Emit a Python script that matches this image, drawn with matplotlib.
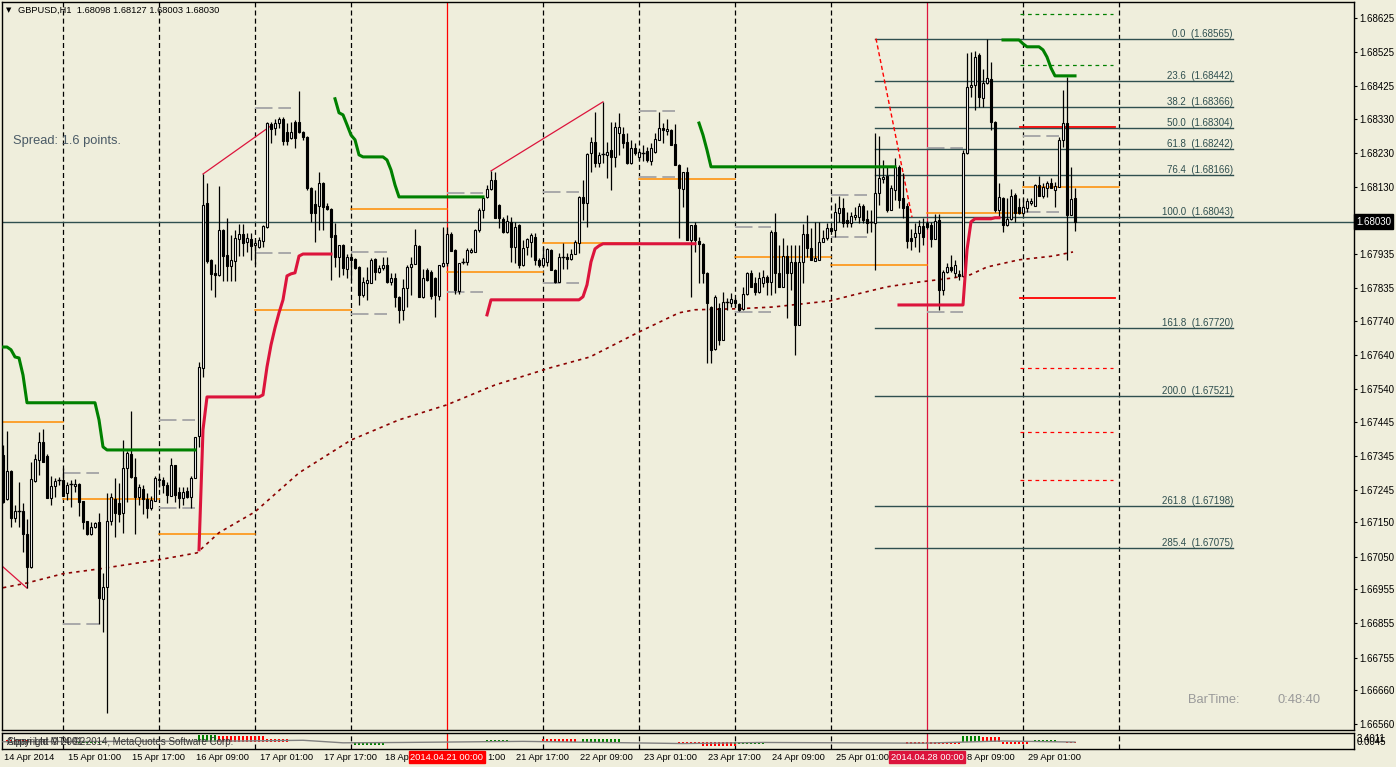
import matplotlib
matplotlib.use("Agg")
import matplotlib.pyplot as plt
import matplotlib.transforms as mtransforms
import numpy as np

plt.rcParams['font.family'] = ['Liberation Sans', 'DejaVu Sans']

BG = '#EFEEDC'
W, H = 1396, 767

# GBPUSD H1, bar 0 = 14 Apr 2014 09:00 (one bar per hour, no weekend bars)
opens = [1.67348,1.67219,1.67301,1.67164,1.67181,1.67184,1.67117,1.67020,1.67271,1.67333,1.67386,1.67345,
 1.67222,1.67257,1.67271,1.67274,1.67236,1.67260,1.67257,1.67263,1.67213,1.67155,1.67117,1.67137,
 1.67152,1.66927,1.66961,1.67155,1.67219,1.67207,1.67178,1.67310,1.67351,1.67283,1.67225,1.67248,
 1.67219,1.67193,1.67213,1.67274,1.67274,1.67260,1.67228,1.67318,1.67239,1.67222,1.67242,1.67225,
 1.67280,1.67403,1.67602,1.68085,1.67918,1.67880,1.67874,1.68005,1.67932,1.67900,1.67915,1.67979,
 1.67994,1.67970,1.67979,1.67962,1.67956,1.67973,1.68014,1.68315,1.68304,1.68318,1.68330,1.68292,
 1.68275,1.68321,1.68321,1.68292,1.68277,1.68128,1.68082,1.68076,1.68143,1.68076,1.68067,1.67991,
 1.67927,1.67962,1.67891,1.67927,1.67921,1.67897,1.67815,1.67850,1.67850,1.67921,1.67883,1.67894,
 1.67903,1.67853,1.67865,1.67809,1.67772,1.67836,1.67897,1.67906,1.67959,1.67809,1.67889,1.67883,
 1.67865,1.67812,1.67900,1.67909,1.67994,1.67947,1.67827,1.67909,1.67912,1.67941,1.67941,1.68005,
 1.68064,1.68102,1.68125,1.68152,1.68079,1.68038,1.67999,1.68029,1.67956,1.68020,1.67903,1.67956,
 1.67970,1.67985,1.67918,1.67903,1.67912,1.67947,1.67889,1.67853,1.67924,1.67927,1.67921,1.67935,
 1.67967,1.68102,1.68085,1.68231,1.68263,1.68201,1.68225,1.68225,1.68239,1.68219,1.68289,1.68286,
 1.68263,1.68201,1.68245,1.68219,1.68234,1.68236,1.68207,1.68234,1.68269,1.68304,1.68295,1.68298,
 1.68257,1.68196,1.68125,1.68175,1.67976,1.68020,1.67973,1.67965,1.67880,1.67780,1.67658,1.67777,
 1.67684,1.67792,1.67792,1.67801,1.67789,1.67775,1.67818,1.67880,1.67850,1.67824,1.67850,1.67868,
 1.67853,1.67999,1.67880,1.67839,1.67929,1.67880,1.67912,1.67728,1.67912,1.67994,1.67953,1.67915,
 1.67918,1.67970,1.67982,1.68011,1.68005,1.68055,1.68070,1.68035,1.68026,1.68044,1.68044,1.68076,
 1.68038,1.68026,1.68026,1.68114,1.68155,1.68164,1.68064,1.68122,1.68190,1.68099,1.68076,1.67982,
 1.67985,1.67997,1.68017,1.68026,1.68020,1.67979,1.68035,1.67830,1.67883,1.67897,1.67880,1.67877,
 1.67871,1.68231,1.68424,1.68429,1.68517,1.68392,1.68435,1.68447,1.68321,1.68064,1.68099,1.68020,
 1.68038,1.68108,1.68073,1.68055,1.68070,1.68085,1.68076,1.68137,1.68105,1.68128,1.68143,1.68122,
 1.68131,1.68269,1.68318,1.68049,1.68098]
highs = [1.67377,1.67418,1.67304,1.67201,1.67268,1.67207,1.67161,1.67327,1.67351,1.67415,1.67424,1.67351,
 1.67286,1.67280,1.67283,1.67310,1.67268,1.67274,1.67277,1.67265,1.67213,1.67155,1.67152,1.67152,
 1.67178,1.67002,1.67236,1.67236,1.67280,1.67265,1.67391,1.67359,1.67476,1.67339,1.67263,1.67260,
 1.67236,1.67228,1.67286,1.67283,1.67283,1.67268,1.67339,1.67318,1.67254,1.67254,1.67254,1.67286,
 1.67400,1.67619,1.68169,1.68143,1.67921,1.67906,1.68134,1.68008,1.68041,1.67991,1.68005,1.68023,
 1.68023,1.67997,1.67997,1.67976,1.67985,1.68020,1.68321,1.68321,1.68330,1.68336,1.68336,1.68318,
 1.68321,1.68327,1.68412,1.68295,1.68280,1.68131,1.68122,1.68175,1.68146,1.68085,1.68070,1.68026,
 1.67962,1.67965,1.67935,1.67938,1.67924,1.67900,1.67868,1.67897,1.67924,1.67924,1.67903,1.67927,
 1.67927,1.67880,1.67880,1.67812,1.67862,1.67903,1.67927,1.68008,1.67962,1.67891,1.67894,1.67889,
 1.67868,1.67903,1.68014,1.68014,1.68000,1.67950,1.67909,1.67924,1.67953,1.67953,1.68008,1.68070,
 1.68102,1.68137,1.68178,1.68175,1.68082,1.68044,1.68049,1.68044,1.68029,1.68023,1.67976,1.67982,
 1.67997,1.67997,1.67924,1.67956,1.67953,1.67950,1.67891,1.67938,1.67967,1.67938,1.67950,1.67976,
 1.68105,1.68152,1.68231,1.68277,1.68351,1.68234,1.68380,1.68263,1.68321,1.68321,1.68348,1.68307,
 1.68289,1.68269,1.68260,1.68239,1.68254,1.68248,1.68260,1.68289,1.68351,1.68318,1.68330,1.68301,
 1.68315,1.68199,1.68175,1.68190,1.68020,1.68029,1.67985,1.67967,1.67883,1.67783,1.67815,1.67792,
 1.67824,1.67807,1.67821,1.67807,1.67792,1.67839,1.67883,1.67889,1.67868,1.67883,1.67889,1.67874,
 1.68005,1.68055,1.67962,1.67982,1.67962,1.67962,1.67962,1.67962,1.68023,1.68049,1.68011,1.68029,
 1.68029,1.68005,1.68026,1.68017,1.68085,1.68105,1.68099,1.68058,1.68058,1.68073,1.68085,1.68082,
 1.68064,1.68064,1.68289,1.68280,1.68210,1.68190,1.68137,1.68216,1.68196,1.68172,1.68085,1.68008,
 1.68026,1.68035,1.68041,1.68032,1.68029,1.68052,1.68052,1.67889,1.67909,1.67932,1.67918,1.67889,
 1.68239,1.68523,1.68526,1.68529,1.68523,1.68476,1.68565,1.68497,1.68324,1.68143,1.68102,1.68099,
 1.68125,1.68114,1.68099,1.68099,1.68099,1.68099,1.68140,1.68164,1.68143,1.68149,1.68158,1.68146,
 1.68277,1.68415,1.68453,1.68190,1.68127]
lows = [1.67207,1.67216,1.67137,1.67152,1.67137,1.67064,1.66958,1.67017,1.67268,1.67289,1.67327,1.67222,
 1.67201,1.67225,1.67260,1.67228,1.67216,1.67196,1.67239,1.67169,1.67131,1.67114,1.67114,1.67134,
 1.66854,1.66830,1.66593,1.67143,1.67108,1.67152,1.67120,1.67210,1.67280,1.67117,1.67201,1.67175,
 1.67164,1.67187,1.67213,1.67254,1.67236,1.67207,1.67228,1.67210,1.67193,1.67201,1.67222,1.67193,
 1.67280,1.67371,1.67575,1.67909,1.67830,1.67809,1.67871,1.67856,1.67856,1.67856,1.67856,1.67929,
 1.67929,1.67941,1.67918,1.67906,1.67953,1.67956,1.68011,1.68260,1.68283,1.68304,1.68254,1.68254,
 1.68272,1.68245,1.68289,1.68269,1.68122,1.68029,1.67970,1.68005,1.68005,1.68064,1.67859,1.67897,
 1.67868,1.67874,1.67865,1.67859,1.67891,1.67786,1.67809,1.67801,1.67850,1.67859,1.67880,1.67889,
 1.67850,1.67845,1.67780,1.67733,1.67742,1.67780,1.67815,1.67906,1.67809,1.67806,1.67856,1.67804,
 1.67751,1.67801,1.67897,1.67900,1.67944,1.67818,1.67818,1.67906,1.67903,1.67938,1.67941,1.67999,
 1.68041,1.68099,1.68122,1.68041,1.68011,1.67997,1.67997,1.67912,1.67909,1.67894,1.67900,1.67932,
 1.67927,1.67903,1.67897,1.67897,1.67900,1.67889,1.67850,1.67853,1.67891,1.67891,1.67918,1.67935,
 1.67938,1.68035,1.68014,1.68175,1.68190,1.68190,1.68201,1.68158,1.68122,1.68190,1.68225,1.68245,
 1.68199,1.68199,1.68225,1.68210,1.68207,1.68204,1.68196,1.68231,1.68269,1.68260,1.68283,1.68254,
 1.68196,1.67982,1.68073,1.67976,1.67809,1.67941,1.67850,1.67850,1.67617,1.67617,1.67655,1.67669,
 1.67684,1.67772,1.67780,1.67780,1.67769,1.67772,1.67815,1.67839,1.67815,1.67821,1.67839,1.67815,
 1.67815,1.67821,1.67839,1.67839,1.67748,1.67830,1.67640,1.67728,1.67850,1.67927,1.67918,1.67915,
 1.67918,1.67970,1.67976,1.67999,1.67985,1.68029,1.68014,1.68014,1.68014,1.68035,1.68026,1.68026,
 1.67997,1.67999,1.67889,1.68079,1.68143,1.68058,1.68064,1.68093,1.68070,1.68041,1.67953,1.67947,
 1.67956,1.67941,1.67962,1.68008,1.67956,1.67979,1.67772,1.67815,1.67880,1.67883,1.67868,1.67859,
 1.67868,1.68228,1.68394,1.68356,1.68365,1.68365,1.68432,1.68298,1.68058,1.68041,1.67999,1.68017,
 1.68035,1.68029,1.68052,1.68052,1.68058,1.68079,1.68076,1.68105,1.68099,1.68102,1.68128,1.68073,
 1.68131,1.68248,1.67918,1.68049,1.68003]
closes = [1.67210,1.67301,1.67164,1.67184,1.67184,1.67117,1.67020,1.67277,1.67336,1.67386,1.67327,1.67222,
 1.67257,1.67271,1.67274,1.67228,1.67260,1.67263,1.67263,1.67210,1.67152,1.67117,1.67137,1.67149,
 1.66930,1.66961,1.67155,1.67225,1.67178,1.67175,1.67310,1.67353,1.67283,1.67225,1.67254,1.67219,
 1.67193,1.67216,1.67280,1.67277,1.67260,1.67231,1.67318,1.67231,1.67222,1.67239,1.67225,1.67280,
 1.67400,1.67605,1.68079,1.67915,1.67877,1.67874,1.68005,1.67929,1.67900,1.67918,1.67982,1.67994,
 1.67967,1.67982,1.67959,1.67967,1.67976,1.68017,1.68318,1.68301,1.68318,1.68330,1.68266,1.68266,
 1.68292,1.68275,1.68292,1.68277,1.68128,1.68055,1.68055,1.68143,1.68073,1.68067,1.67985,1.67927,
 1.67962,1.67894,1.67927,1.67918,1.67894,1.67815,1.67853,1.67859,1.67918,1.67883,1.67894,1.67903,
 1.67853,1.67865,1.67809,1.67772,1.67836,1.67897,1.67906,1.67962,1.67809,1.67865,1.67859,1.67812,
 1.67815,1.67903,1.67909,1.67994,1.67944,1.67830,1.67909,1.67912,1.67947,1.67947,1.68005,1.68064,
 1.68099,1.68125,1.68152,1.68041,1.68041,1.67999,1.68032,1.67956,1.68014,1.67903,1.67953,1.67979,
 1.67991,1.67918,1.67903,1.67924,1.67950,1.67889,1.67853,1.67927,1.67927,1.67921,1.67935,1.67970,
 1.68102,1.68085,1.68228,1.68263,1.68201,1.68225,1.68228,1.68234,1.68219,1.68307,1.68307,1.68260,
 1.68201,1.68245,1.68231,1.68234,1.68231,1.68210,1.68245,1.68272,1.68304,1.68298,1.68301,1.68254,
 1.68196,1.68128,1.68175,1.67976,1.68020,1.67976,1.67965,1.67880,1.67792,1.67655,1.67809,1.67684,
 1.67795,1.67795,1.67804,1.67792,1.67772,1.67818,1.67880,1.67839,1.67824,1.67865,1.67868,1.67853,
 1.67999,1.67880,1.67839,1.67929,1.67880,1.67912,1.67728,1.67912,1.67994,1.67953,1.67918,1.67924,
 1.67970,1.67982,1.68011,1.68002,1.68058,1.68070,1.68026,1.68026,1.68046,1.68049,1.68076,1.68035,
 1.68026,1.68029,1.68114,1.68158,1.68161,1.68064,1.68128,1.68190,1.68093,1.68070,1.67973,1.67973,
 1.67997,1.68017,1.67985,1.68014,1.67979,1.68032,1.67830,1.67883,1.67897,1.67889,1.67903,1.67871,
 1.68231,1.68424,1.68429,1.68511,1.68394,1.68435,1.68450,1.68321,1.68064,1.68102,1.68020,1.68038,
 1.68105,1.68055,1.68055,1.68073,1.68090,1.68090,1.68137,1.68105,1.68131,1.68143,1.68128,1.68134,
 1.68269,1.68318,1.68049,1.68096,1.68030]

# trailing stop lines (bar, price); nan separates pieces
stop_up_bars = [0, 1, 2, 3, 4, 5, 6, 23, 24, 25, 26, 48, np.nan,
                83, 84, 85, 86, 87, 88, 89, 90, 95, 96, 97, 98, 99, 120, np.nan,
                174, 175, 176, 177, 223, np.nan,
                250, 254, 255, 256, 259, 260, 261, 262, 263, 268]
stop_up_vals = [1.67663, 1.67663, 1.67655, 1.67634, 1.67631, 1.67581, 1.67500, 1.67500, 1.67450, 1.67371, 1.67362, 1.67362, np.nan,
                1.68389, 1.68348, 1.68342, 1.68313, 1.68283, 1.68269, 1.68225, 1.68219, 1.68219, 1.68210, 1.68181, 1.68137, 1.68102, 1.68102, np.nan,
                1.68318, 1.68283, 1.68239, 1.68190, 1.68190, np.nan,
                1.68561, 1.68561, 1.68550, 1.68541, 1.68541, 1.68532, 1.68511, 1.68479, 1.68456, 1.68456]
stop_dn_bars = [49, 50, 51, 64, 65, 66, 67, 68, 69, 70, 71, 72, 73, 74, 75, 82, np.nan,
                121, 122, 144, 145, 146, 147, 148, 149, 150, 173, np.nan,
                224, 240, 241, 242, 243, 247, 248, 249]
stop_dn_vals = [1.67070, 1.67421, 1.67517, 1.67517, 1.67523, 1.67605, 1.67669, 1.67719, 1.67763, 1.67801, 1.67871, 1.67877, 1.67880, 1.67929, 1.67935, 1.67935, np.nan,
                1.67757, 1.67801, 1.67801, 1.67810, 1.67845, 1.67912, 1.67950, 1.67959, 1.67965, 1.67965, np.nan,
                1.67786, 1.67786, 1.67947, 1.68029, 1.68038, 1.68038, 1.68041, 1.68041]

# slow moving average (dotted)
ma_bars = [0, 6, 15, 24, 39, 48.5, 54, 63, 74, 87, 99, 111, 123, 136.75, 146.75, 159, 169, 173, 184,
           192.5, 206.75, 212.5, 221, 229, 237.5, 241.75, 246, 254, 262.5, 267.5]
ma_vals = [1.66959, 1.66973, 1.67000, 1.67014, 1.67041, 1.67061, 1.67120, 1.67181, 1.67295, 1.67391,
           1.67450, 1.67494, 1.67552, 1.67602, 1.67634, 1.67707, 1.67763, 1.67772, 1.67775, 1.67780,
           1.67798, 1.67815, 1.67839, 1.67853, 1.67865, 1.67874, 1.67897, 1.67918, 1.67929, 1.67941]

# zigzag legs
zig_bars = [0, 6, np.nan, 50, 67, np.nan, 122, 150]
zig_vals = [1.67020, 1.66958, np.nan, 1.68169, 1.68310, np.nan, 1.68178, 1.68380]

# daily levels: day start bar (00:00), orange level, grey high/low
day_start = [-0.25, 15, 39, 63, 87, 111, 135, 159, 183, 207, 231, 255]
day_orange = [1.67444, 1.67219, 1.67117, 1.67772, 1.68067, 1.67883, 1.67967, 1.68155, 1.67927, 1.67903, 1.68055, 1.68131]
grey_days = [15, 39, 63, 87, 111, 135, 159, 183, 207, 231, 255]
grey_hi = [1.67295, 1.67450, 1.68362, 1.67941, 1.68114, 1.68117, 1.68353, 1.68014, 1.68108, 1.68245, 1.68280]
grey_lo = [1.66853, 1.67193, 1.67938, 1.67760, 1.67824, 1.67850, 1.68160, 1.67766, 1.67985, 1.67766, 1.68058]

# pivot levels drawn for the next day
piv_green = [1.68637, 1.68488]
piv_red = [1.68307, 1.67807]
piv_red_dash = [1.67602, 1.67415, 1.67275]

# fibonacci retracement
fib_names = ["0.0", "23.6", "38.2", "50.0", "61.8", "76.4", "100.0", "161.8", "200.0", "261.8", "285.4"]
fib_prices = [1.68565, 1.68442, 1.68366, 1.68304, 1.68242, 1.68166, 1.68043, 1.67720, 1.67521, 1.67198, 1.67075]
fib_anchor_bars = [218.25, 227.25]

last_price = 1.68030

ytick_labels = ["1.68625", "1.68525", "1.68425", "1.68330", "1.68230", "1.68130", "1.68030", "1.67935",
                "1.67835", "1.67740", "1.67640", "1.67540", "1.67445", "1.67345", "1.67245", "1.67150",
                "1.67050", "1.66955", "1.66855", "1.66755", "1.66660", "1.66560"]
# time labels as seen (parts hidden under the red week markers are cut)
xtick_bars = [0, 16, 32, 48, 64, 80, 95.2, 120.75, 128, 144, 160, 176, 192, 208, 240.75, 256]
xtick_labels = ["14 Apr 2014", "15 Apr 01:00", "15 Apr 17:00", "16 Apr 09:00", "17 Apr 01:00",
                "17 Apr 17:00", "18 Ap", "1:00", "21 Apr 17:00", "22 Apr 09:00",
                "23 Apr 01:00", "23 Apr 17:00", "24 Apr 09:00", "25 Apr 01:00",
                "8 Apr 09:00", "29 Apr 01:00"]
sep_bars = [15, 39, 63, 87, 135, 159, 183, 207, 255, 279]
week_bars = [111, 231]
week_labels = ["2014.04.21 00:00", "2014.04.28 00:00"]
week_colors = ['#FF0000', '#DC143C']

# oscillator sub-window: runs of histogram bars
osc_start = [1, 19, 49, 54, 66, 88, 121, 135, 145, 169, 175, 183, 226, 240, 245, 250, 258, 266]
osc_end = [6, 25, 53, 65, 71, 95, 126, 143, 154, 174, 183, 190, 239, 244, 249, 256, 263, 268]
osc_val = [0.3, -0.2, 0.9, 0.8, 0.35, -0.45, 0.2, 0.4, 0.35, -0.3, -0.6, -0.35, -0.3, 0.8, 0.7, -0.35, 0.2, -0.2]
osc_col = ['r', 'g', 'g', 'r', 'r', 'g', 'g', 'r', 'g', 'r', 'r', 'g', 'r', 'g', 'r', 'r', 'g', 'r']
sig_bars = [0, 60, 75, 85, 100, 130, 170, 190, 230, 250, 268]
sig_vals = [0.0, 0.1, 0.2, -0.15, -0.1, 0.05, -0.25, -0.1, -0.2, 0.1, -0.05]

fig = plt.figure(figsize=(W / 100, H / 100), dpi=100, facecolor=BG)
ax = fig.add_axes([2 / W, 1 - 730 / H, 1352 / W, 728 / H], facecolor=BG)
ax2 = fig.add_axes([2 / W, 1 - 749 / H, 1352 / W, 16 / H], facecolor=BG)

for a in (ax, ax2):
    a.set_xlim(-0.25, 337.75)
    for s in a.spines.values():
        s.set_color('black')
        s.set_linewidth(1)
    for b in sep_bars:
        a.axvline(b, color='black', lw=0.9, ls=(0, (4, 2.5)), zorder=1)
    for b, c in zip(week_bars, week_colors):
        a.axvline(b, color=c, lw=0.9, zorder=1)
ax.set_ylim(1.66543, 1.68672)

# daily levels
for i, b in enumerate(day_start):
    end = day_start[i + 1] if i + 1 < len(day_start) else b + 24
    ax.plot([b, end], [day_orange[i]] * 2, color='#FF8C00', lw=1.1, zorder=2)
for b, hi, lo in zip(grey_days, grey_hi, grey_lo):
    ax.plot([b, b + 9], [hi, hi], color='#A9A9A9', lw=1.4, ls=(0, (9, 3)), zorder=2)
    ax.plot([b, b + 9], [lo, lo], color='#A9A9A9', lw=1.4, ls=(0, (9, 3)), zorder=2)

# pivots
for p in piv_green:
    ax.plot([254.25, 277.5], [p, p], color='#008000', lw=0.9, ls=(0, (3, 3)), zorder=2)
for p in piv_red:
    ax.plot([254.25, 278], [p, p], color='#FF0000', lw=1.3, zorder=2)
for p in piv_red_dash:
    ax.plot([254.25, 277.5], [p, p], color='#FF0000', lw=0.9, ls=(0, (3, 3)), zorder=2)

# fibonacci
for name, p in zip(fib_names, fib_prices):
    ax.plot([218, 307.5], [p, p], color='#2F4F4F', lw=1, zorder=2)
    ax.text(307.5, p, f"{name}  ({p:.5f})", ha='right', va='bottom', fontsize=7, color='#2F4F4F')
ax.plot(fib_anchor_bars, [fib_prices[0], fib_prices[6]], color='#FF0000', lw=1, ls=(0, (3, 2)), zorder=2)

ax.axhline(last_price, color='#2F4F4F', lw=1, zorder=2)
ax.plot(ma_bars, ma_vals, color='#8B0000', lw=1.2, ls=(0, (2, 2.5)), zorder=2)
ax.plot(zig_bars, zig_vals, color='#DC143C', lw=0.9, zorder=2)

# candles
o, h, l, c = map(np.array, (opens, highs, lows, closes))
idx = np.arange(len(o))
ax.vlines(idx, l, h, color='black', lw=0.9, zorder=3)
lo_b = np.minimum(o, c)
hgt = np.abs(c - o)
flat = hgt < 0.00003
up = (c >= o) & ~flat
dn = (c < o) & ~flat
ax.bar(idx[up], hgt[up], bottom=lo_b[up], width=0.55, facecolor='white', edgecolor='black', lw=0.8, zorder=4)
ax.bar(idx[dn], hgt[dn], bottom=lo_b[dn], width=0.55, facecolor='black', edgecolor='black', lw=0.8, zorder=4)
ax.hlines(c[flat], idx[flat] - 0.45, idx[flat] + 0.45, color='black', lw=1, zorder=4)

ax.plot(stop_up_bars, stop_up_vals, color='#008000', lw=2.2, zorder=5)
ax.plot(stop_dn_bars, stop_dn_vals, color='#DC143C', lw=2.2, zorder=5)

# price axis (the last price label sits in the black box instead)
ax.yaxis.tick_right()
ax.set_yticks([float(t) for t in ytick_labels])
ax.set_yticklabels(['' if float(t) == last_price else t for t in ytick_labels])
ax.tick_params(axis='y', direction='out', length=2.5, width=0.8, pad=1.2, labelsize=7, colors='black')
ax.tick_params(axis='x', bottom=False, labelbottom=False)
ax.text(1.0015, last_price, "1.68030", transform=mtransforms.blended_transform_factory(ax.transAxes, ax.transData),
        ha='left', va='center', fontsize=7, color='white', zorder=10, clip_on=False,
        bbox=dict(boxstyle='square,pad=0.25', facecolor='black', edgecolor='black'))

# oscillator window
ax2.set_ylim(-1.0, 1.2)
ax2.set_xticks([])
ax2.set_yticks([])
for s, e, v, col in zip(osc_start, osc_end, osc_val, osc_col):
    ax2.bar(np.arange(s, e + 1), v, width=0.6, color='#008000' if col == 'g' else '#FF0000', lw=0, zorder=2)
ax2.plot(sig_bars, sig_vals, color='#808080', lw=1, zorder=3)
ax2.text(0.004, 0.45, "Copyright \u00a9 2001-2014, MetaQuotes Software Corp.", transform=ax2.transAxes,
         fontsize=7, va='center', color='#333333')
ax2.text(0.004, 0.45, "Alpari Ltd MT4 \u00a92", transform=ax2.transAxes, fontsize=7, va='center', color='#333333')
fig.text(1357 / W, 1 - 739 / H, "3.4011", fontsize=7, va='center')
fig.text(1357 / W, 1 - 742 / H, "0.0045", fontsize=7, va='center')

# time axis labels
tr = mtransforms.blended_transform_factory(ax2.transData, fig.transFigure)
for b, lab in zip(xtick_bars, xtick_labels):
    ax2.text(b + 0.3, 1 - 757 / H, lab, transform=tr, fontsize=6.7, ha='left', va='center', clip_on=False)
for b, lab, col in zip(week_bars, week_labels, week_colors):
    ax2.text(b, 1 - 757 / H, lab, transform=tr, fontsize=6.7, ha='center', va='center', color='white',
             clip_on=False, zorder=10, bbox=dict(boxstyle='square,pad=0.15', facecolor=col, edgecolor=col))

# chart texts
fig.text(9 / W, 1 - 10 / H, "\u25bc", fontsize=5, va='center', ha='center', family='DejaVu Sans')
fig.text(18 / W, 1 - 10 / H, "GBPUSD,H1  1.68098 1.68127 1.68003 1.68030", fontsize=6.7, va='center')
fig.text(13 / W, 1 - 141 / H, "Spread: 1.6 points.", fontsize=9.3, va='center', color='#4A5A66')
fig.text(1188 / W, 1 - 700 / H, "BarTime:", fontsize=9.3, va='center', color='#9A9A9A')
fig.text(1278 / W, 1 - 700 / H, "0:48:40", fontsize=9.3, va='center', color='#9A9A9A')

fig.savefig("out.png", dpi=100, facecolor=BG)
